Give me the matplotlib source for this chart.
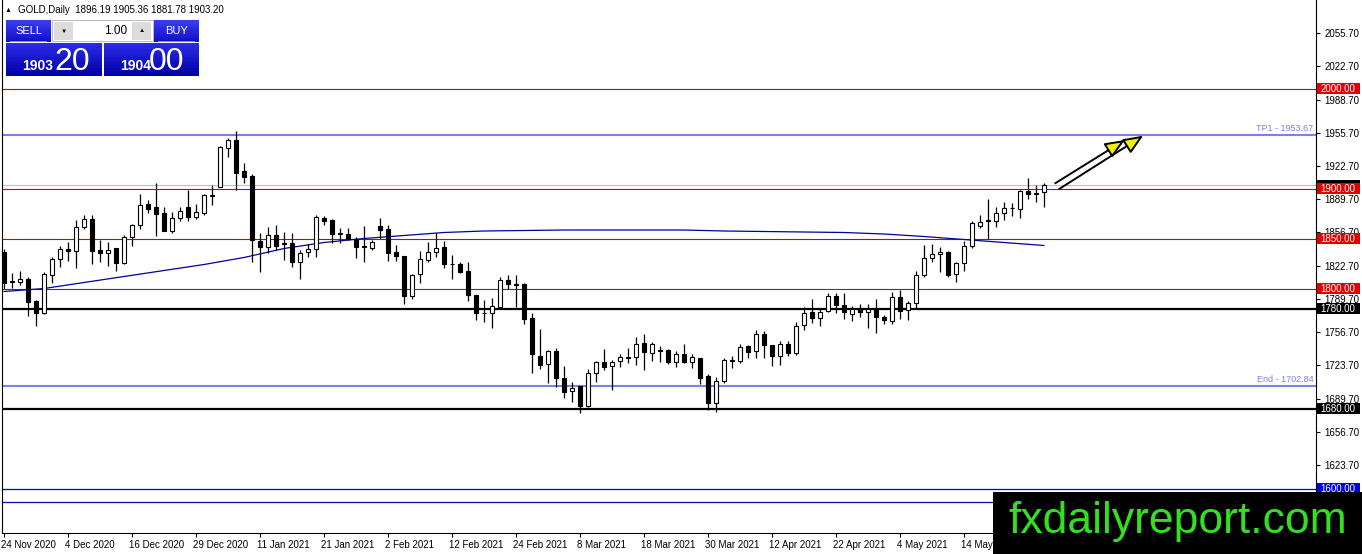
import matplotlib
matplotlib.use('Agg')
import matplotlib.pyplot as plt
import matplotlib.transforms as mtransforms
from matplotlib.patches import Rectangle, FancyArrowPatch
import numpy as np

# ---------------- data ----------------
opens = [1837, 1807, 1807, 1810, 1788, 1776, 1814, 1830, 1840, 1838,
         1862, 1870, 1839, 1836, 1841, 1826, 1852, 1864, 1885, 1882,
         1876, 1858, 1871, 1882, 1872, 1876, 1893.5, 1902, 1941, 1949,
         1918, 1913, 1848, 1842, 1854, 1846, 1846, 1827, 1837, 1840,
         1871, 1869, 1855.5, 1855, 1850, 1842.5, 1841, 1863, 1860, 1837,
         1833, 1793, 1815, 1829, 1837, 1842, 1825, 1825, 1818, 1794,
         1776, 1776, 1782, 1809, 1804.5, 1805, 1771, 1733, 1725, 1738,
         1711, 1698, 1703, 1683, 1716, 1727, 1723, 1728, 1731.5, 1732,
         1746, 1736, 1738.5, 1739, 1727, 1735, 1727, 1731, 1713, 1686,
         1708, 1728.5, 1728, 1743, 1738, 1755, 1744, 1733, 1745, 1736,
         1764, 1777, 1771, 1778, 1793, 1784, 1775, 1780, 1777, 1780,
         1772, 1768, 1792, 1779, 1786, 1814, 1831, 1835, 1837, 1815,
         1826, 1843, 1863, 1868.5, 1868, 1876, 1881, 1880, 1898, 1895.5,
         1896.19]
highs = [1840, 1816, 1818, 1812, 1789, 1817, 1832, 1843, 1847, 1869,
         1874, 1874, 1849, 1847, 1841, 1854, 1865, 1895, 1889, 1906,
         1882, 1877, 1882, 1899, 1885, 1895, 1904, 1943, 1951, 1958,
         1926, 1915, 1856, 1862, 1864, 1857, 1856, 1839, 1845, 1874,
         1873, 1870, 1861, 1861, 1852, 1863, 1849, 1871, 1864, 1844,
         1833, 1815, 1838, 1847, 1856, 1848, 1834, 1827, 1827, 1794,
         1789, 1791, 1812, 1814, 1814, 1806, 1776, 1760, 1739, 1741,
         1723, 1707, 1703, 1720, 1728, 1740, 1729, 1735, 1741, 1752,
         1755, 1747, 1743, 1740, 1738, 1745, 1735, 1731, 1715, 1712,
         1731, 1733, 1745, 1744, 1759, 1758, 1744, 1748, 1748, 1767,
         1782, 1790, 1781, 1796, 1796, 1796, 1783, 1785, 1785, 1790,
         1774, 1797, 1799, 1788, 1818, 1844, 1845, 1842, 1837.5, 1827,
         1848, 1868, 1874, 1890, 1882, 1887, 1886, 1899, 1911, 1904,
         1905.36]
lows = [1800, 1801, 1804, 1773, 1763, 1775, 1806, 1822, 1828, 1821,
        1860, 1825, 1827, 1823, 1818, 1825, 1843, 1860, 1876, 1853,
        1858, 1856, 1868, 1868, 1870, 1874, 1884, 1902, 1932, 1899,
        1906, 1827, 1817, 1836, 1839, 1829, 1822, 1810, 1832, 1832,
        1864, 1846, 1846, 1849, 1831, 1827, 1839, 1850, 1828, 1828,
        1785, 1790, 1806, 1827, 1832, 1821, 1810, 1816, 1788, 1769,
        1767, 1761, 1781, 1800, 1782, 1765, 1716, 1720, 1706, 1702,
        1691, 1687, 1676, 1682, 1707, 1719, 1699, 1722, 1726, 1724,
        1719, 1728, 1727, 1725, 1722, 1726, 1721, 1705, 1679, 1677,
        1706, 1721, 1726, 1731, 1731, 1731, 1723, 1724, 1733, 1734,
        1759, 1766, 1763, 1777, 1776, 1770, 1768, 1772, 1761, 1756,
        1765, 1765, 1770, 1769, 1781, 1812, 1827, 1817, 1812, 1807,
        1818, 1841, 1861, 1850, 1862, 1869, 1873, 1871, 1890, 1887,
        1881.78]
closes = [1806, 1807.5, 1810, 1787, 1776, 1815, 1830, 1840, 1838, 1862,
          1870, 1838, 1836, 1839, 1826, 1852, 1864, 1884, 1880, 1875,
          1858, 1871, 1878, 1872, 1877, 1894, 1893, 1942, 1949, 1916,
          1912, 1849, 1842, 1854, 1843, 1845, 1827, 1836, 1840, 1872,
          1868, 1855, 1855, 1850, 1842, 1842, 1847, 1859, 1836, 1833,
          1793, 1814, 1830, 1837, 1841, 1825, 1824.5, 1817, 1794, 1776,
          1775.5, 1783, 1809, 1805, 1804, 1770, 1735, 1724, 1738, 1711,
          1697, 1701, 1683, 1716, 1727, 1722, 1727, 1732, 1731, 1745,
          1737, 1745, 1738, 1727, 1735, 1727, 1732, 1711, 1686, 1708,
          1729, 1728, 1742, 1737, 1755, 1744, 1733, 1745, 1736, 1763,
          1776, 1771, 1777, 1793, 1784, 1777, 1780, 1777, 1780, 1772,
          1769, 1792, 1778, 1786, 1814, 1831, 1835, 1837, 1814, 1826,
          1843, 1866, 1867, 1868, 1876, 1881, 1880.5, 1898, 1895, 1895,
          1903.20]

ma_idx = list(range(0, 131, 5))
ma_val = [1797, 1800, 1806, 1812, 1818, 1824, 1831, 1840, 1846, 1850,
          1853, 1856, 1857.5, 1858, 1858.5, 1858.5, 1858.5, 1858.5, 1857.5, 1857,
          1856.5, 1856, 1854.5, 1852, 1849, 1846, 1843]

date_idx = list(range(0, 121, 8))
date_labels = ["24 Nov 2020", "4 Dec 2020", "16 Dec 2020", "29 Dec 2020",
               "11 Jan 2021", "21 Jan 2021", "2 Feb 2021", "12 Feb 2021",
               "24 Feb 2021", "8 Mar 2021", "18 Mar 2021", "30 Mar 2021",
               "12 Apr 2021", "22 Apr 2021", "4 May 2021", "14 May 2021"]

price_ticks = [2055.70, 2022.70, 1988.70, 1955.70, 1922.70, 1889.70, 1856.70,
               1822.70, 1789.70, 1756.70, 1723.70, 1689.70, 1656.70, 1623.70]

red_levels = [2000.0, 1900.0, 1850.0, 1800.0]
black_levels = [1780.0, 1680.0]
blue_levels = [1600.0, 1586.5]
tp1_level = 1953.67
end_level = 1702.84
last_price = 1903.20
ohlc_title = "GOLD,Daily  1896.19 1905.36 1881.78 1903.20"

arrows = [((131.4, 1905.2), (140.1, 1948.5)),
          ((131.9, 1899.5), (142.4, 1952.8))]

# ---------------- figure ----------------
W, H = 1362, 554
fig = plt.figure(figsize=(W / 100, H / 100), dpi=100)
fig.patch.set_facecolor('white')
ax = fig.add_axes([2 / W, 21 / H, 1314 / W, 533 / H])
ax.set_facecolor('white')
ax.set_xlim(-0.25, 164)
ax.set_ylim(1555.5, 2088.5)

FONT = ['Liberation Sans', 'DejaVu Sans']

# horizontal levels
for lv in red_levels:
    ax.axhline(lv, color='#d00000', lw=0.8, zorder=1)
for lv in black_levels:
    ax.axhline(lv, color='black', lw=1.6, zorder=1)
for lv in blue_levels:
    ax.axhline(lv, color='#0000c0', lw=0.9, zorder=1)
for lv in (tp1_level, end_level):
    ax.axhline(lv, color='#7f7fe6', lw=1.5, zorder=1)
ax.axhline(last_price, color='#c0c0c0', lw=0.8, zorder=0.9)

ax.text(0.998, tp1_level + 1.5, "TP1 - 1953.67", transform=ax.get_yaxis_transform(),
        ha='right', va='bottom', fontsize=6.5, color='#7f7fe6', family=FONT)
ax.text(0.998, end_level + 1.5, "End - 1702.84", transform=ax.get_yaxis_transform(),
        ha='right', va='bottom', fontsize=6.5, color='#7f7fe6', family=FONT)

# moving average
ax.plot(ma_idx, ma_val, color='#0000a0', lw=0.9, zorder=2)

# candles
x = np.arange(len(opens))
o = np.array(opens, float); c = np.array(closes, float)
h = np.array(highs, float); l = np.array(lows, float)
ax.vlines(x, l, h, color='black', lw=0.9, zorder=3)
up = c >= o
bottoms = np.minimum(o, c)
heights = np.maximum(np.abs(c - o), 0.3)
ax.bar(x[up], heights[up], bottom=bottoms[up], width=0.6, facecolor='white',
       edgecolor='black', linewidth=0.8, zorder=4)
ax.bar(x[~up], heights[~up], bottom=bottoms[~up], width=0.6, facecolor='black',
       edgecolor='black', linewidth=0.8, zorder=4)

# arrows
for (s, e) in arrows:
    ar = FancyArrowPatch(s, e, arrowstyle='-|>,head_length=0.6,head_width=0.25',
                         mutation_scale=20, facecolor='#f0f000', edgecolor='black',
                         lw=1.4, shrinkA=0, shrinkB=0, zorder=6)
    ax.add_patch(ar)

# axes styling
for sp in ['left', 'right', 'bottom']:
    ax.spines[sp].set_color('black')
    ax.spines[sp].set_linewidth(0.8)
ax.spines['top'].set_visible(False)
ax.yaxis.tick_right()
ax.set_yticks(price_ticks)
ax.set_yticklabels([f"{v:.2f}" for v in price_ticks], family=FONT, fontsize=7)
ax.tick_params(axis='y', direction='out', length=3, width=0.8, pad=3)
ax.set_xticks(date_idx)
ax.set_xticklabels(date_labels, family=FONT, fontsize=7, ha='left')
ax.tick_params(axis='x', direction='out', length=3, width=0.8, pad=2)
off = mtransforms.ScaledTranslation(-3 / 100, 0, fig.dpi_scale_trans)
for lab in ax.get_xticklabels():
    lab.set_transform(lab.get_transform() + off)

# price tags on the right
ytr = ax.get_yaxis_transform()
def tag(price, bg, z, show_text=True):
    ax.add_patch(Rectangle((1316 / 1314 - 0.0005, price - 5.5), 43 / 1314, 11,
                           transform=ytr, facecolor=bg, edgecolor='none',
                           clip_on=False, zorder=z))
    if show_text:
        ax.text(1.0035, price, f"{price:.2f}", transform=ytr, ha='left', va='center',
                fontsize=7, color='white', family=FONT, clip_on=False, zorder=z + 0.1)

tag(last_price, 'black', 8, show_text=False)
for lv in red_levels:
    tag(lv, '#e00000', 9)
for lv in black_levels:
    tag(lv, 'black', 9)
tag(blue_levels[0], '#0000e0', 9)

# ---------------- top-left panel ----------------
def prect(x0, y0, x1, y1, color, z=20, ec='none', lw=0):
    r = Rectangle((x0 / W, 1 - y1 / H), (x1 - x0) / W, (y1 - y0) / H,
                  transform=fig.transFigure, facecolor=color, edgecolor=ec,
                  linewidth=lw, zorder=z)
    fig.add_artist(r)

def grad(x0, y0, x1, y1, ctop, cbot, n=12):
    ct = np.array(matplotlib.colors.to_rgb(ctop)); cb = np.array(matplotlib.colors.to_rgb(cbot))
    step = (y1 - y0) / n
    for i in range(n):
        t = i / (n - 1)
        prect(x0, y0 + i * step, x1, y0 + (i + 1) * step + 0.3, tuple(ct * (1 - t) + cb * t))

def ptext(px, py, s, z=30, **kw):
    fig.text(px / W, 1 - py / H, s, zorder=z, **kw)

ptext(5, 10, "\u25b2", fontsize=5, va='center', ha='left', family=FONT)
ptext(18, 10, ohlc_title, fontsize=7, va='center', ha='left', family=FONT)

grad(6, 20, 51, 42, '#3a3af0', '#1010c8')
grad(154, 20, 199, 42, '#3a3af0', '#1010c8')
prect(10, 41, 47, 41.8, '#8080ff', z=21)
prect(158, 41, 195, 41.8, '#8080ff', z=21)
prect(52, 20, 153, 41, 'white', z=20, ec='#b0b0b0', lw=0.6)
prect(54, 22, 73, 40, '#dcdcdc', z=21)
prect(132, 22, 151, 40, '#dcdcdc', z=21)
ptext(63.5, 31, "\u25bc", fontsize=4.5, ha='center', va='center', family=FONT)
ptext(141.5, 31, "\u25b2", fontsize=4.5, ha='center', va='center', family=FONT)
ptext(127, 30.5, "1.00", fontsize=8.5, ha='right', va='center', family=FONT)
ptext(28.5, 30.5, "SELL", fontsize=8, ha='center', va='center', color='white', family=FONT)
ptext(176.5, 30.5, "BUY", fontsize=8, ha='center', va='center', color='white', family=FONT)

grad(6, 43, 102, 76, '#2a2ae6', '#0000a8')
grad(104, 43, 199, 76, '#2a2ae6', '#0000a8')
ptext(22, 70, "1903", fontsize=10, ha='left', va='baseline', color='white',
      family=FONT, fontweight='bold')
ptext(54, 70, "20", fontsize=23, ha='left', va='baseline', color='white', family=FONT)
ptext(120, 70, "1904", fontsize=10, ha='left', va='baseline', color='white',
      family=FONT, fontweight='bold')
ptext(149, 70, "00", fontsize=23, ha='left', va='baseline', color='white', family=FONT)

# ---------------- watermark ----------------
prect(993, 492, 1362, 554, 'black', z=40)
ptext(1178, 521, "fxdailyreport.com", z=50, fontsize=32, ha='center', va='center',
      color='#33e020', family=['Liberation Sans Narrow', 'Liberation Sans', 'DejaVu Sans'])

fig.savefig('out.png', dpi=100)
